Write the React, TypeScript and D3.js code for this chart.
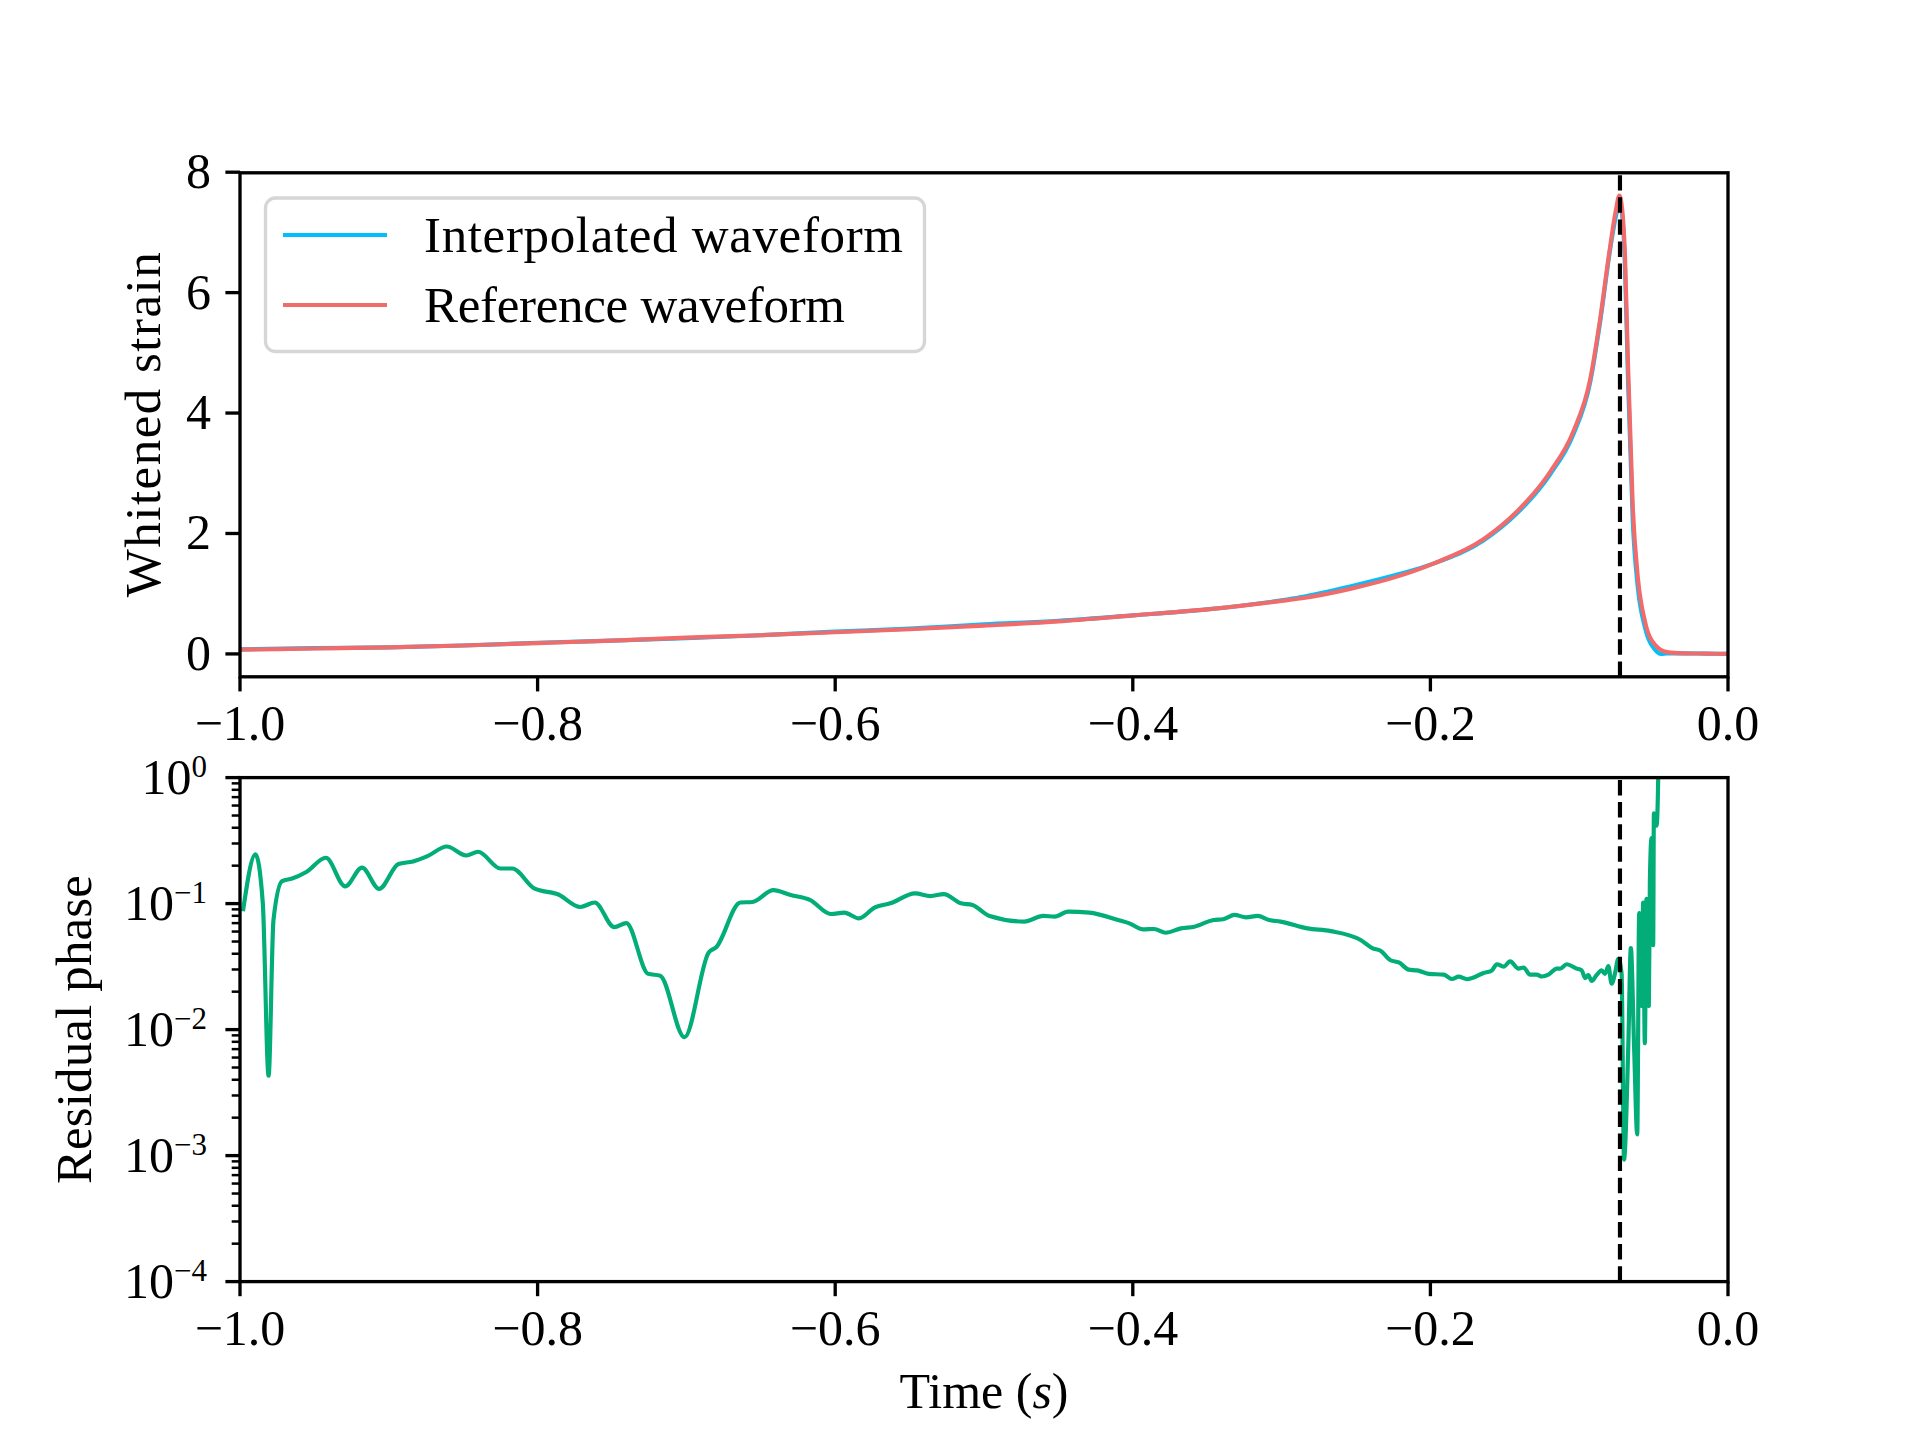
import * as d3 from "d3";

// figure geometry (matplotlib default subplots at 300 dpi)
const W = 1920;
const H = 1440;
const LEFT = 240;
const RIGHT = 1728;
const TOP1 = 172.8;
const BOT1 = 676.8;
const TOP2 = 777.6;
const BOT2 = 1281.6;
const FONT = "'Liberation Serif', 'DejaVu Serif', serif";
const LW = 4.17;

const PEAK_TIME = -0.0726;

const xTicks = [-1.0, -0.8, -0.6, -0.4, -0.2, 0.0];
const strainTicks = [0, 2, 4, 6, 8];
const phaseExponents = [0, -1, -2, -3, -4];

// reference waveform
const refTime = [
  -1.0, -0.95, -0.9, -0.85, -0.8, -0.75, -0.7, -0.65, -0.6, -0.55, -0.5, -0.45,
  -0.4, -0.35, -0.3, -0.2876, -0.254, -0.2204, -0.198, -0.1646, -0.142, -0.1196,
  -0.104, -0.0927, -0.086, -0.0793, -0.0755, -0.073, -0.0712, -0.0692, -0.0672,
  -0.064, -0.0605, -0.0558, -0.049, -0.041, -0.03, -0.015, 0.0,
];
const refStrain = [
  0.07, 0.09, 0.11, 0.14, 0.18, 0.22, 0.27, 0.31, 0.36, 0.41, 0.47, 0.54,
  0.64, 0.74, 0.88, 0.92, 1.08, 1.3, 1.5, 1.9, 2.36, 3.02,
  3.69, 4.55, 5.55, 6.75, 7.35, 7.61, 7.4, 6.6, 4.8,
  2.44, 1.25, 0.54, 0.15, 0.03, 0.01, 0.005, 0.0,
];

// interpolated waveform
const interpTime = [
  -1.0, -0.95, -0.9, -0.85, -0.8, -0.75, -0.7, -0.65, -0.6, -0.55, -0.5, -0.45,
  -0.4, -0.35, -0.3, -0.2876, -0.254, -0.2204, -0.198, -0.1646, -0.142, -0.1196,
  -0.104, -0.0927, -0.086, -0.0793, -0.0755, -0.073, -0.0712, -0.0692, -0.0672,
  -0.064, -0.0605, -0.0558, -0.049, -0.045, -0.041, -0.03, -0.015, 0.0,
];
const interpStrain = [
  0.075, 0.095, 0.11, 0.14, 0.185, 0.22, 0.26, 0.31, 0.37, 0.42, 0.49, 0.55,
  0.64, 0.74, 0.89, 0.94, 1.12, 1.33, 1.5, 1.88, 2.33, 2.98,
  3.64, 4.5, 5.5, 6.7, 7.25, 7.48, 7.3, 6.4, 4.55,
  2.2, 1.08, 0.44, 0.07, 0.0, 0.01, 0.01, 0.005, 0.0,
];

// residual phase
const phaseTime = [
  -0.998, -0.9896, -0.9847, -0.9808, -0.9775, -0.9717, -0.965, -0.9554, -0.9423,
  -0.9293, -0.918, -0.9065, -0.8935, -0.8837, -0.874, -0.861, -0.848, -0.84,
  -0.825, -0.817, -0.8023, -0.786, -0.7713, -0.7616, -0.7485, -0.7404, -0.7257,
  -0.7176, -0.7013, -0.685, -0.68, -0.6638, -0.6557, -0.6415, -0.6299, -0.617,
  -0.6029, -0.5939, -0.5841, -0.5733, -0.563, -0.5463, -0.536, -0.527, -0.5155,
  -0.5078, -0.4962, -0.473, -0.4602, -0.4525, -0.4435, -0.4293, -0.4087, -0.4023,
  -0.3933, -0.3856, -0.3779, -0.3676, -0.3586, -0.3457, -0.3393, -0.3316, -0.3239,
  -0.3161, -0.3084, -0.3007, -0.2827, -0.267, -0.2469, -0.2391,
  -0.2335, -0.2268, -0.2212, -0.2145, -0.209, -0.2011, -0.191, -0.1855, -0.181,
  -0.1754, -0.1642, -0.1587, -0.1553, -0.1508, -0.1464, -0.1408, -0.1374, -0.133,
  -0.1285, -0.1251, -0.1207, -0.1151, -0.1128, -0.1084, -0.1017, -0.0983, -0.096,
  -0.0939, -0.0916, -0.0883, -0.0849, -0.0827, -0.0804, -0.0782, -0.076, -0.0737,
  -0.0715, -0.0699, -0.067, -0.0653, -0.063, -0.061, -0.0597, -0.0581, -0.057,
  -0.0559, -0.0548, -0.0532, -0.0525, -0.0514, -0.0503, -0.0498, -0.048, -0.0469,
  -0.046,
];
const phaseValue = [
  0.087, 0.246, 0.102, 0.0043, 0.074, 0.151, 0.158, 0.178, 0.231,
  0.137, 0.193, 0.131, 0.206, 0.216, 0.238, 0.284, 0.241, 0.258,
  0.19, 0.19, 0.132, 0.118, 0.094, 0.102, 0.065, 0.07, 0.0277,
  0.0268, 0.0087, 0.041, 0.045, 0.102, 0.103, 0.128, 0.117, 0.107,
  0.0827, 0.0847, 0.0764, 0.0933, 0.1005, 0.1206, 0.1148, 0.119, 0.1005,
  0.0975, 0.0798, 0.072, 0.0798, 0.0789, 0.0863, 0.0847, 0.0733, 0.0697,
  0.0625, 0.0629, 0.0587, 0.0636, 0.0656, 0.0741, 0.0751, 0.0813, 0.0778,
  0.0798, 0.0741, 0.072, 0.0636, 0.0605, 0.0514, 0.0443,
  0.0423, 0.0355, 0.0341, 0.0299, 0.0295, 0.0277, 0.0273, 0.0252, 0.0263,
  0.0251, 0.0281, 0.0295, 0.033, 0.0316, 0.0348, 0.0305, 0.0311, 0.0273,
  0.0273, 0.0264, 0.0273, 0.0305, 0.0305, 0.033, 0.0305, 0.0295, 0.0256,
  0.0271, 0.0243, 0.0271, 0.0295, 0.0277, 0.0319, 0.0231, 0.0277, 0.0364,
  0.0277, 0.00093, 0.0075, 0.0443, 0.0066, 0.00147, 0.084, 0.0154, 0.102,
  0.0078, 0.109, 0.0154, 0.151, 0.331, 0.0468, 0.521, 0.415, 1.0,
  1000,
];

const x = d3.scaleLinear().domain([-1, 0]).range([LEFT, RIGHT]);
const yStrain = d3.scaleLinear().domain([-0.38, 7.99]).range([BOT1, TOP1]);
const yPhase = d3.scaleLog().domain([1e-4, 1]).range([BOT2, TOP2]);

const fmtX = d3.format(".1f");

function Axes({ top, bottom }: { top: number; bottom: number }) {
  return (
    <g>
      <rect
        x={LEFT}
        y={top}
        width={RIGHT - LEFT}
        height={bottom - top}
        fill="none"
        stroke="#000"
        strokeWidth={3.33}
      />
      {xTicks.map((t) => (
        <g key={t}>
          <line
            x1={x(t)}
            x2={x(t)}
            y1={bottom}
            y2={bottom + 14.6}
            stroke="#000"
            strokeWidth={3.33}
          />
          <text
            x={x(t)}
            y={bottom + 63}
            textAnchor="middle"
            fontSize={50}
            fontFamily={FONT}
          >
            {fmtX(t)}
          </text>
        </g>
      ))}
    </g>
  );
}

export default function App() {
  const strainLine = d3
    .line<number>()
    .x((_, i) => x(refTime[i]))
    .y((d) => yStrain(d))
    .curve(d3.curveMonotoneX);
  const interpLine = d3
    .line<number>()
    .x((_, i) => x(interpTime[i]))
    .y((d) => yStrain(d))
    .curve(d3.curveMonotoneX);
  const phaseLine = d3
    .line<number>()
    .x((_, i) => x(phaseTime[i]))
    .y((d) => yPhase(d))
    .curve(d3.curveMonotoneX);

  const minorTicks: number[] = [];
  for (let e = -4; e < 0; e++) {
    for (let k = 2; k <= 9; k++) minorTicks.push(k * Math.pow(10, e));
  }

  return (
    <div style={{ position: "absolute", left: 0, top: 0 }}>
      <svg width={W} height={H} style={{ display: "block", background: "#fff" }}>
        <defs>
          <clipPath id="clip-top">
            <rect x={LEFT} y={TOP1} width={RIGHT - LEFT} height={BOT1 - TOP1} />
          </clipPath>
          <clipPath id="clip-bot">
            <rect x={LEFT} y={TOP2} width={RIGHT - LEFT} height={BOT2 - TOP2} />
          </clipPath>
        </defs>

        {/* top panel */}
        <g clipPath="url(#clip-top)">
          <path
            d={interpLine(interpStrain) ?? ""}
            fill="none"
            stroke="#00bfff"
            strokeWidth={LW}
            strokeLinejoin="round"
          />
          <path
            d={strainLine(refStrain) ?? ""}
            fill="none"
            stroke="#f26b6b"
            strokeWidth={LW}
            strokeLinejoin="round"
          />
          <line
            x1={x(PEAK_TIME)}
            x2={x(PEAK_TIME)}
            y1={BOT1}
            y2={TOP1}
            stroke="#000"
            strokeWidth={LW}
            strokeDasharray="15.4 6.7"
          />
        </g>
        <Axes top={TOP1} bottom={BOT1} />
        {strainTicks.map((v) => (
          <g key={v}>
            <line
              x1={LEFT - 14.6}
              x2={LEFT}
              y1={yStrain(v)}
              y2={yStrain(v)}
              stroke="#000"
              strokeWidth={3.33}
            />
            <text
              x={LEFT - 29}
              y={yStrain(v) + 16}
              textAnchor="end"
              fontSize={50}
              fontFamily={FONT}
            >
              {v}
            </text>
          </g>
        ))}
        <text
          transform={`translate(160,${(TOP1 + BOT1) / 2}) rotate(-90)`}
          textAnchor="middle"
          fontSize={51}
          fontFamily={FONT}
          textLength={345}
          lengthAdjust="spacing"
        >
          Whitened strain
        </text>

        {/* legend */}
        <g>
          <rect
            x={265.5}
            y={198}
            width={659}
            height={153.5}
            rx={10}
            fill="#fff"
            fillOpacity={0.8}
            stroke="#d6d6d6"
            strokeWidth={3.33}
          />
          <line x1={283} x2={387} y1={235} y2={235} stroke="#00bfff" strokeWidth={LW} />
          <line x1={283} x2={387} y1={305} y2={305} stroke="#f26b6b" strokeWidth={LW} />
          <text
            x={424}
            y={252}
            fontSize={51}
            fontFamily={FONT}
            textLength={479}
            lengthAdjust="spacing"
          >
            Interpolated waveform
          </text>
          <text
            x={424}
            y={322}
            fontSize={51}
            fontFamily={FONT}
            textLength={421}
            lengthAdjust="spacing"
          >
            Reference waveform
          </text>
        </g>

        {/* bottom panel */}
        <g clipPath="url(#clip-bot)">
          <path
            d={phaseLine(phaseValue) ?? ""}
            fill="none"
            stroke="#02ad77"
            strokeWidth={LW}
            strokeLinejoin="round"
          />
          <line
            x1={x(PEAK_TIME)}
            x2={x(PEAK_TIME)}
            y1={BOT2}
            y2={TOP2}
            stroke="#000"
            strokeWidth={LW}
            strokeDasharray="15.4 6.7"
          />
        </g>
        <Axes top={TOP2} bottom={BOT2} />
        {minorTicks.map((v) => (
          <line
            key={v}
            x1={LEFT - 8.3}
            x2={LEFT}
            y1={yPhase(v)}
            y2={yPhase(v)}
            stroke="#000"
            strokeWidth={2.5}
          />
        ))}
        {phaseExponents.map((e) => (
          <g key={e}>
            <line
              x1={LEFT - 14.6}
              x2={LEFT}
              y1={yPhase(Math.pow(10, e))}
              y2={yPhase(Math.pow(10, e))}
              stroke="#000"
              strokeWidth={3.33}
            />
            <text
              x={LEFT - 33}
              y={yPhase(Math.pow(10, e)) + 16}
              textAnchor="end"
              fontSize={50}
              fontFamily={FONT}
            >
              <tspan>10</tspan>
              <tspan dy={-17} fontSize={31}>
                {e === 0 ? "0" : "\u2212" + Math.abs(e)}
              </tspan>
            </text>
          </g>
        ))}
        <text
          transform={`translate(91,${(TOP2 + BOT2) / 2}) rotate(-90)`}
          textAnchor="middle"
          fontSize={51}
          fontFamily={FONT}
          textLength={309}
          lengthAdjust="spacing"
        >
          Residual phase
        </text>
        <text
          x={(LEFT + RIGHT) / 2}
          y={1408}
          textAnchor="middle"
          fontSize={50}
          fontFamily={FONT}
        >
          Time (<tspan fontStyle="italic">s</tspan>)
        </text>
      </svg>
    </div>
  );
}
